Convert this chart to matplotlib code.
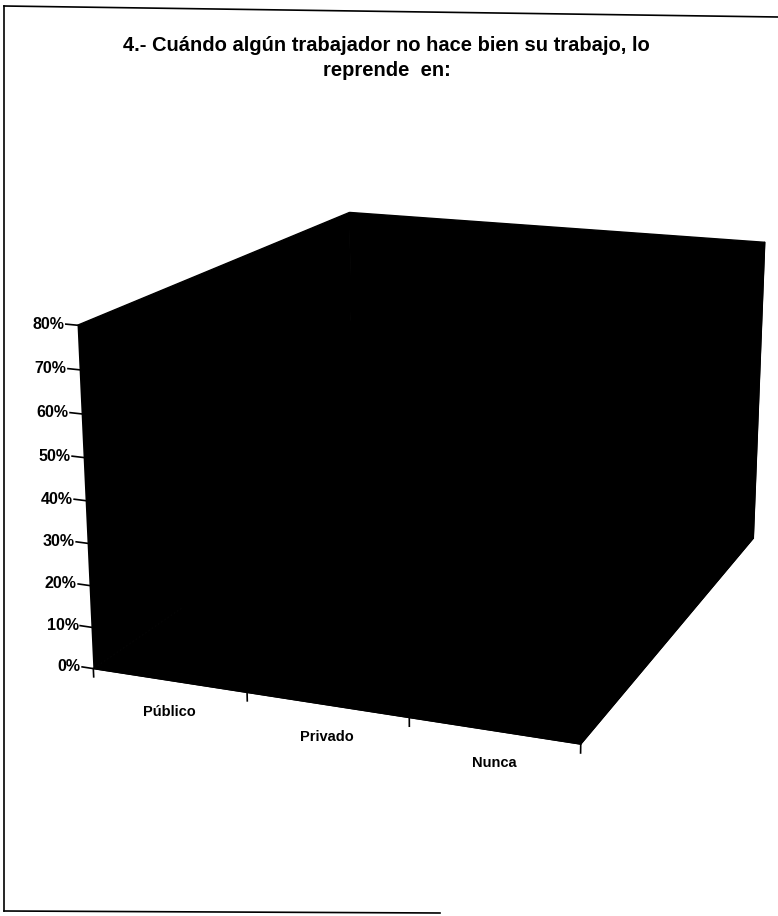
import numpy as np
import matplotlib
matplotlib.use('Agg')
import matplotlib.pyplot as plt
import matplotlib.transforms as mtransforms
from matplotlib.lines import Line2D

# datos (las barras quedan ocultas por el fondo negro)
categorias = ['Público', 'Privado', 'Nunca']
valores = [0.12, 0.76, 0.12]
z_ticks = [0.0, 0.1, 0.2, 0.3, 0.4, 0.5, 0.6, 0.7, 0.8]
z_labels = ['0%', '10%', '20%', '30%', '40%', '50%', '60%', '70%', '80%']
titulo = '4.- Cuándo algún trabajador no hace bien su trabajo, lo\nreprende  en:'

plt.rcParams['font.family'] = ['Liberation Sans', 'DejaVu Sans']
plt.rcParams['font.weight'] = 'bold'


def main():
    fig = plt.figure(figsize=(7.78, 9.16), dpi=100)
    ax = fig.add_axes([0.0393, -0.0194, 1.0487, 1.0487], projection='3d')

    n = len(categorias)
    x = np.arange(n)
    ax.bar3d(x + 0.2, 0.2, 0, 0.6, 0.6, valores, color='black', shade=False)

    ax.set_xlim(0, n)
    ax.set_ylim(0, 1)
    ax.set_zlim(0, 0.8)
    ax.view_init(elev=16.06, azim=-68.56)
    ax.set_proj_type('persp', focal_length=0.52)
    ax.set_box_aspect((1, 1.256, 0.687))

    for axis in (ax.xaxis, ax.yaxis, ax.zaxis):
        axis.set_pane_color((0, 0, 0, 1))
        axis.pane.set_edgecolor('black')
        axis._axinfo['axisline']['color'] = 'black'
        axis.label.set_visible(False)
        axis.offsetText.set_visible(False)
    ax.grid(False)
    ax.set_xticks([])
    ax.set_yticks([])
    ax.set_zticks([])

    # marcas y etiquetas del eje de porcentajes (arista frontal izquierda)
    lbl_off = mtransforms.offset_copy(ax.transData, fig=fig, x=-1, units='points')
    for v, lab in zip(z_ticks, z_labels):
        ax.plot([0, -0.075], [0, 0], [v, v], color='black', lw=1.2)
        ax.text(-0.075, 0, v, lab, ha='right', va='center', fontsize=11.5,
                transform=lbl_off)

    # marcas del eje de categorias
    for i in range(n + 1):
        ax.plot([i, i], [0, 0], [0, -0.02], color='black', lw=1.2)
    cat_off = mtransforms.offset_copy(ax.transData, fig=fig, y=-23, units='points')
    for i, cat in enumerate(categorias):
        ax.text(i + 0.5, 0, 0, cat, ha='center', va='center', fontsize=10.5,
                transform=cat_off)

    fig.text(0.497, 1 - 58 / 916, titulo, ha='center', va='center',
             fontsize=14.5, linespacing=1.45)

    # marco de la pagina escaneada
    fig.add_artist(Line2D([4 / 778, 4 / 778], [1 - 6 / 916, 1 - 911 / 916],
                          transform=fig.transFigure, color='black', lw=1.2))
    fig.add_artist(Line2D([4 / 778, 1.0], [1 - 6 / 916, 1 - 17 / 916],
                          transform=fig.transFigure, color='black', lw=1.2))
    fig.add_artist(Line2D([4 / 778, 440 / 778], [1 - 911 / 916, 1 - 913 / 916],
                          transform=fig.transFigure, color='black', lw=1.2))

    fig.savefig('out.png', dpi=100)


if __name__ == '__main__':
    main()
